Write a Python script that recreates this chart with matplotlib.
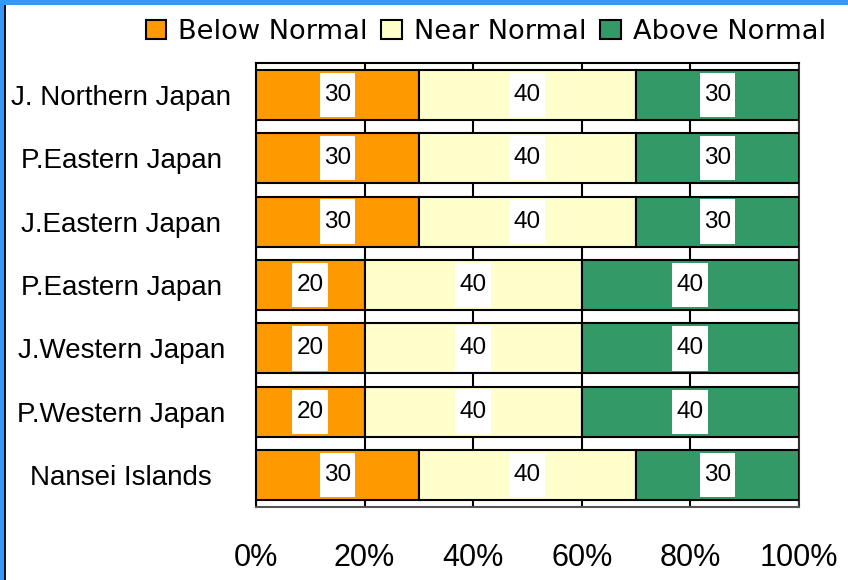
import matplotlib
matplotlib.use("Agg")
import matplotlib.pyplot as plt
from matplotlib.patches import Rectangle, Patch
import numpy as np

regions = ["J. Northern Japan", "P.Eastern Japan", "J.Eastern Japan",
           "P.Eastern Japan", "J.Western Japan", "P.Western Japan",
           "Nansei Islands"]
below_normal = [30, 30, 30, 20, 20, 20, 30]
near_normal = [40, 40, 40, 40, 40, 40, 40]
above_normal = [30, 30, 30, 40, 40, 40, 30]
series_names = ["Below Normal", "Near Normal", "Above Normal"]
x_ticks = [0, 20, 40, 60, 80, 100]
x_tick_labels = ["0%", "20%", "40%", "60%", "80%", "100%"]

colors = ["#FF9900", "#FFFFCC", "#339966"]
W, H = 848, 580
fig = plt.figure(figsize=(W / 100, H / 100), dpi=100)
fig.patch.set_facecolor("white")

# frame decoration: blue strip on top and left, thin dark rule inside
fig.add_artist(Rectangle((0, 1 - 5 / H), 1, 5 / H, transform=fig.transFigure,
                         facecolor="#3b95f5", edgecolor="none"))
fig.add_artist(Rectangle((0, 0), 4 / W, 1, transform=fig.transFigure,
                         facecolor="#3b95f5", edgecolor="none"))
fig.add_artist(Rectangle((4 / W, 0), 2 / W, 1 - 5 / H, transform=fig.transFigure,
                         facecolor="#111111", edgecolor="none"))

ax = fig.add_axes([256 / W, 1 - 507 / H, (799 - 256) / W, (507 - 63) / H])
y = np.arange(len(regions))
left = np.zeros(len(regions))
handles = []
for vals, name, col in zip([below_normal, near_normal, above_normal],
                           series_names, colors):
    vals = np.array(vals, dtype=float)
    ax.barh(y, vals, left=left, height=0.79, color=col, edgecolor="black",
            linewidth=1.5, zorder=3)
    for yi, l, v in zip(y, left, vals):
        cx = l + v / 2
        ax.add_patch(Rectangle((cx - 3.3, yi - 0.35), 6.6, 0.70,
                               facecolor="white", edgecolor="none", zorder=4))
        ax.text(cx, yi, f"{int(v)}", ha="center", va="center", fontsize=17.5,
                family="Liberation Sans", zorder=5)
    handles.append(Patch(facecolor=col, edgecolor="black", linewidth=1.5,
                         label=name))
    left = left + vals

ax.set_xlim(0, 100)
ax.set_ylim(len(regions) - 0.5, -0.5)
ax.set_xticks(x_ticks)
ax.set_xticklabels(x_tick_labels, family="Liberation Sans", fontsize=22)
ax.set_yticks(y)
ax.set_yticklabels(regions, family="Liberation Sans", fontsize=20)
for lab in ax.get_yticklabels():
    lab.set_ha("center")
ax.tick_params(axis="y", length=0, pad=97)
ax.tick_params(axis="x", length=0, pad=26)
ax.grid(axis="x", color="black", linewidth=1.5, zorder=1)
ax.set_axisbelow(True)
for s in ax.spines.values():
    s.set_linewidth(1.5)
    s.set_color("black")
ax.spines["bottom"].set_color("#555555")
ax.spines["right"].set_color("#333333")

leg = fig.legend(handles=handles, loc="upper right",
                 bbox_to_anchor=(826 / W, 1 - 19 / H), ncol=3, frameon=False,
                 prop={"family": "DejaVu Sans", "size": 19.6},
                 handlelength=0.75, handleheight=0.75, handletextpad=0.45,
                 columnspacing=0.5, borderaxespad=0, borderpad=0)

fig.savefig("out.png", dpi=100)
